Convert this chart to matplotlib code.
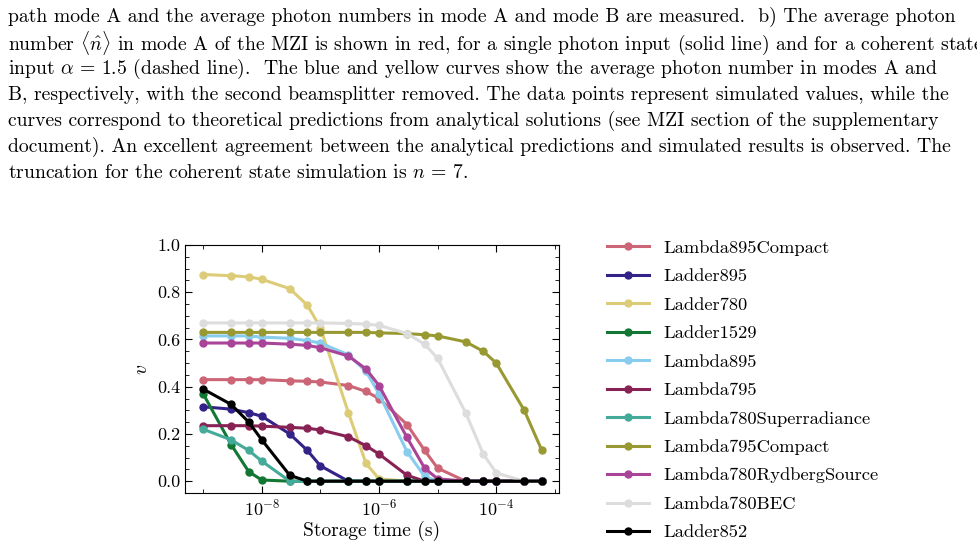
import numpy as np
import matplotlib
matplotlib.use("Agg")
import matplotlib.pyplot as plt
from matplotlib.ticker import MultipleLocator, LogLocator, NullFormatter, FormatStrFormatter

plt.rcParams["font.family"] = "serif"
plt.rcParams["font.serif"] = ["cmr10"]
plt.rcParams["mathtext.fontset"] = "cm"
plt.rcParams["axes.formatter.use_mathtext"] = True

# storage times shared by all series
times = [1e-9, 3e-9, 6e-9, 1e-8, 3e-8, 6e-8, 1e-7, 3e-7, 6e-7,
         1e-6, 3e-6, 6e-6, 1e-5, 3e-5, 6e-5, 1e-4, 3e-4, 6e-4]

names = ["Lambda895Compact", "Ladder895", "Ladder780", "Ladder1529", "Lambda895",
         "Lambda795", "Lambda780Superradiance", "Lambda795Compact",
         "Lambda780RydbergSource", "Lambda780BEC", "Ladder852"]
colors = ["#CC6677", "#332288", "#DDCC77", "#117733", "#88CCEE", "#882255",
          "#44AA99", "#999933", "#AA4499", "#DDDDDD", "#000000"]
z = [0.0] * 18
values = [
    [0.43, 0.43, 0.43, 0.43, 0.425, 0.423, 0.42, 0.405, 0.38, 0.35, 0.24, 0.13, 0.055] + z[:5],
    [0.315, 0.305, 0.29, 0.275, 0.2, 0.13, 0.065, 0.0] + z[:10],
    [0.875, 0.87, 0.865, 0.855, 0.815, 0.745, 0.65, 0.29, 0.075, 0.01] + z[:8],
    [0.37, 0.155, 0.04, 0.005, 0.0] + z[:13],
    [0.615, 0.615, 0.615, 0.61, 0.605, 0.595, 0.585, 0.535, 0.465, 0.37, 0.125, 0.02, 0.0] + z[:5],
    [0.235, 0.235, 0.235, 0.233, 0.228, 0.224, 0.217, 0.188, 0.15, 0.115, 0.025, 0.0] + z[:6],
    [0.22, 0.175, 0.13, 0.085, 0.0] + z[:13],
    [0.63, 0.63, 0.63, 0.63, 0.63, 0.63, 0.63, 0.63, 0.63, 0.628, 0.625, 0.62, 0.615,
     0.59, 0.55, 0.50, 0.30, 0.13],
    [0.585, 0.585, 0.585, 0.585, 0.58, 0.575, 0.565, 0.53, 0.475, 0.405, 0.185, 0.055, 0.01] + z[:5],
    [0.67, 0.67, 0.67, 0.67, 0.67, 0.67, 0.67, 0.668, 0.665, 0.66, 0.625, 0.58, 0.52,
     0.29, 0.115, 0.035, 0.0, 0.0],
    [0.39, 0.325, 0.25, 0.175, 0.025, 0.0] + z[:12],
]

caption = [
    "path mode A and the average photon numbers in mode A and mode B are measured.  b) The average photon",
    r"number $\langle\hat{n}\rangle$ in mode A of the MZI is shown in red, for a single photon input (solid line) and for a coherent state",
    r"input $\alpha\,=\,1.5$ (dashed line).  The blue and yellow curves show the average photon number in modes A and",
    "B, respectively, with the second beamsplitter removed. The data points represent simulated values, while the",
    "curves correspond to theoretical predictions from analytical solutions (see MZI section of the supplementary",
    "document). An excellent agreement between the analytical predictions and simulated results is observed. The",
    r"truncation for the coherent state simulation is $n\,=\,7$.",
]

fig = plt.figure(figsize=(9.77, 5.46), dpi=100)
for i, line in enumerate(caption):
    fig.text(8 / 977, 1 - (17 + 26 * i) / 546, line, fontsize=14.2, ha="left", va="center")

ax = fig.add_axes([185 / 977, 53 / 546, 374 / 977, 248 / 546])
for name, c, v in zip(names, colors, values):
    ax.plot(times, v, "-o", color=c, lw=2.2, ms=5, label=name)

ax.set_xscale("log")
ax.set_xlim(10 ** -9.31, 10 ** -2.93)
ax.set_ylim(-0.05, 1.0)
ax.yaxis.set_major_locator(MultipleLocator(0.2))
ax.yaxis.set_minor_locator(MultipleLocator(0.05))
ax.yaxis.set_major_formatter(FormatStrFormatter("%.1f"))
ax.xaxis.set_major_locator(LogLocator(base=100))
ax.xaxis.set_minor_locator(LogLocator(base=10, subs=(1.0,), numticks=30))
ax.xaxis.set_minor_formatter(NullFormatter())
ax.tick_params(which="both", direction="in", top=True, right=True, labelsize=13)
ax.tick_params(which="major", length=5)
ax.tick_params(which="minor", length=3)
ax.set_xlabel("Storage time (s)", fontsize=14, labelpad=2)
ax.set_ylabel(r"$v$", fontsize=14)

fig.legend(*ax.get_legend_handles_labels(), loc="upper left",
           bbox_to_anchor=(590 / 977, 1 - 223 / 546), frameon=False, fontsize=13.3,
           handlelength=2.3, labelspacing=0.68)

fig.savefig("out.png", dpi=100)
